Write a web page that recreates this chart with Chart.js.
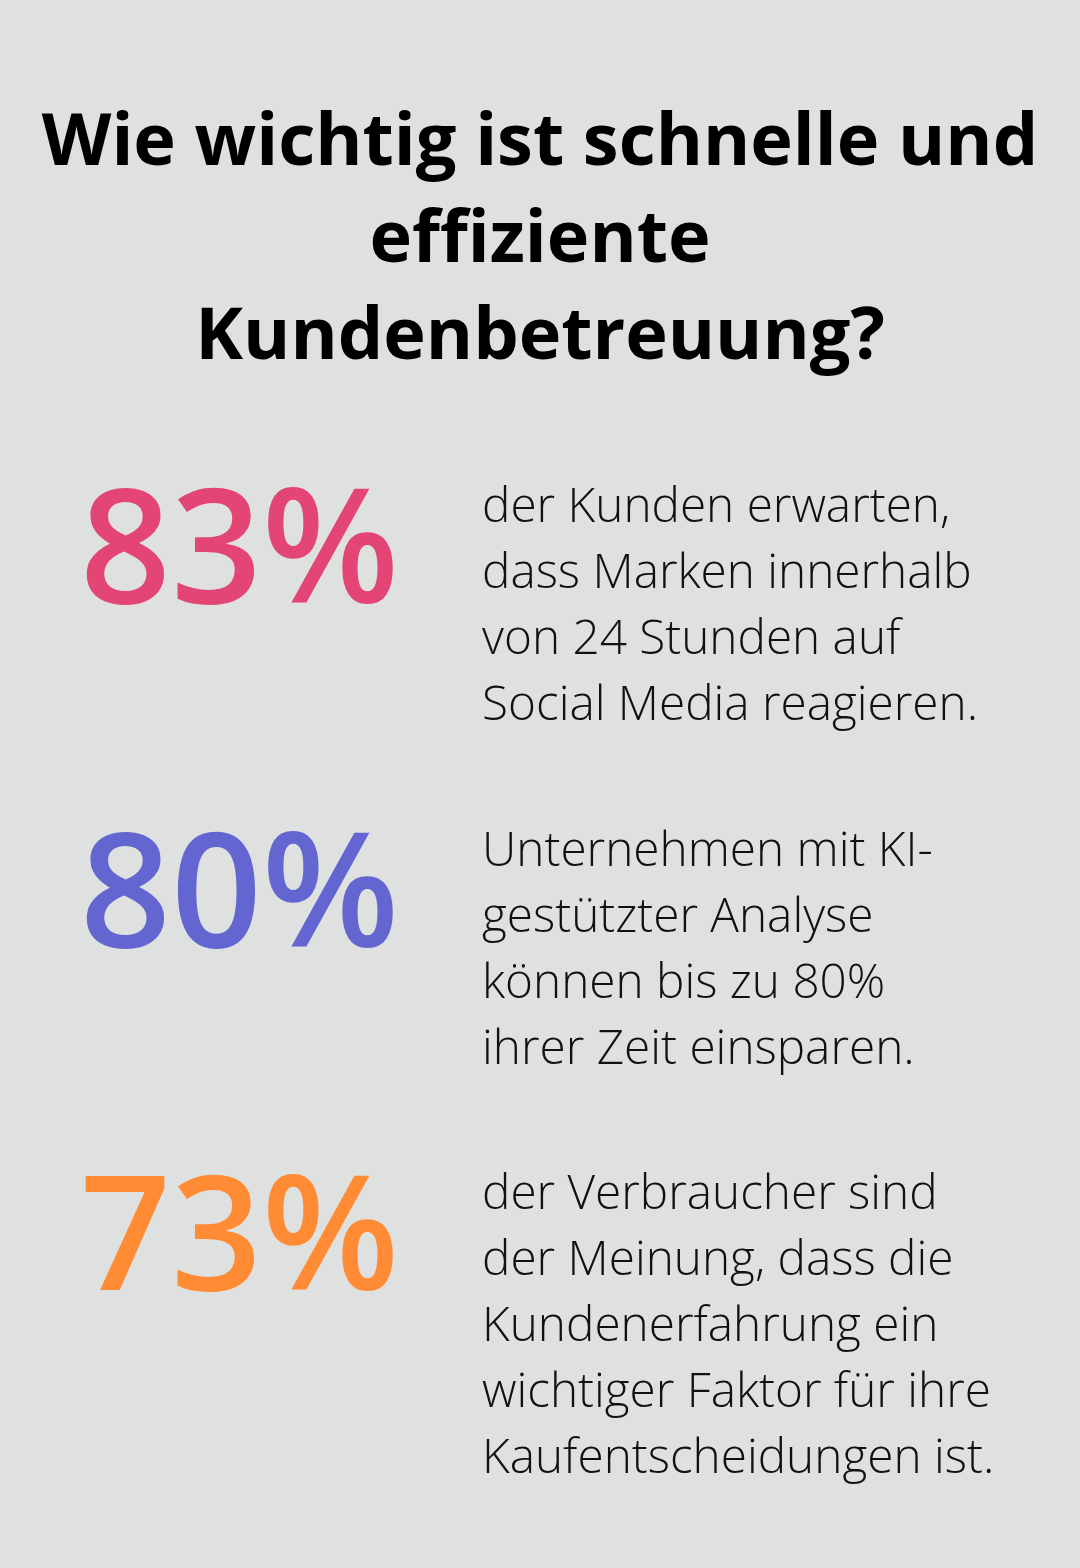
<!DOCTYPE html>
<html lang="de">
<head>
    <meta charset="UTF-8">
    <title>Wie wichtig ist schnelle und effiziente Kundenbetreuung?</title>
    <script src="https://cdn.jsdelivr.net/npm/chart.js"></script>
    <style>
        html, body { margin: 0; padding: 0; background: #dfe1e0; }
        #wrap { width: 1080px; height: 1568px; position: relative; }
    </style>
</head>
<body>
    <div id="wrap">
        <canvas id="myChart"></canvas>
    </div>
    <script>
        // Daten
        const titleLines = ['Wie wichtig ist schnelle und', 'effiziente', 'Kundenbetreuung?'];
        const categories = ['Social Media', 'KI-Analyse', 'Kundenerfahrung'];
        const statValues = [83, 80, 73];
        const statColors = ['#e34575', '#6366d1', '#ff8c35'];
        const descriptions = [
            ['der Kunden erwarten,', 'dass Marken innerhalb', 'von 24 Stunden auf', 'Social Media reagieren.'],
            ['Unternehmen mit KI-', 'gestützter Analyse', 'können bis zu 80%', 'ihrer Zeit einsparen.'],
            ['der Verbraucher sind', 'der Meinung, dass die', 'Kundenerfahrung ein', 'wichtiger Faktor für ihre', 'Kaufentscheidungen ist.']
        ];

        // zeichnet Zahl + Beschreibung an der Position jedes Punktes
        const statTextPlugin = {
            id: 'statText',
            beforeDraw(chart) {
                const ctx = chart.ctx;
                ctx.save();
                ctx.fillStyle = '#dfe1e0';
                ctx.fillRect(0, 0, chart.width, chart.height);
                ctx.restore();
            },
            afterDatasetsDraw(chart) {
                const ctx = chart.ctx;
                const meta = chart.getDatasetMeta(0);
                ctx.save();
                ctx.textBaseline = 'alphabetic';
                ctx.textAlign = 'left';
                meta.data.forEach((pt, i) => {
                    const y = pt.y;
                    ctx.fillStyle = statColors[i];
                    ctx.font = '600 159px "Open Sans"';
                    ctx.fillText(statValues[i] + '%', 80, y);

                    ctx.fillStyle = '#111111';
                    ctx.font = '300 47.7px "Open Sans"';
                    descriptions[i].forEach((line, j) => {
                        ctx.fillText(line, 482, y - 81 + j * 66);
                    });
                });
                ctx.restore();
            }
        };

        const ctx = document.getElementById('myChart').getContext('2d');
        const myChart = new Chart(ctx, {
            type: 'line',
            data: {
                labels: categories,
                datasets: [{
                    data: statValues,
                    showLine: false,
                    pointRadius: 0,
                    pointHoverRadius: 0
                }]
            },
            options: {
                responsive: true,
                maintainAspectRatio: false,
                animation: false,
                indexAxis: 'y',
                layout: {
                    padding: { top: 0, bottom: 278, left: 0, right: 0 }
                },
                plugins: {
                    legend: { display: false },
                    tooltip: { enabled: false },
                    title: {
                        display: true,
                        text: titleLines,
                        color: '#000000',
                        font: { family: '"Open Sans"', size: 72, weight: 'bold', lineHeight: 97 / 72 },
                        padding: { top: 96, bottom: 216 }
                    }
                },
                scales: {
                    x: { display: false, min: 0, max: 100 },
                    y: { display: false, offset: false }
                }
            },
            plugins: [statTextPlugin]
        });
    </script>
</body>
</html>
